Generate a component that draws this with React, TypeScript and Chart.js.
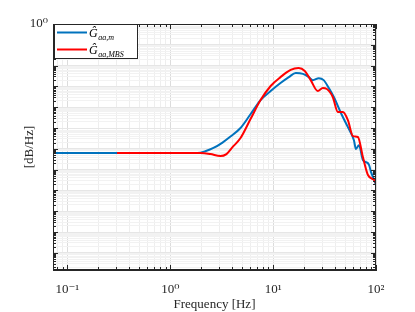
import { useEffect, useRef } from "react";
import { Chart, registerables } from "chart.js";

Chart.register(...registerables);

// Blue: measured
const freqM = [0.0722, 0.638, 1.83, 2.19, 2.63, 3.22, 3.85, 4.82, 6.03, 7.55, 9.46, 11.8, 14.2, 16.6, 19.5, 22.2, 24.3, 27.8, 31.0, 34.8, 38.9, 45.6, 53.3, 61.0, 63.8, 68.2, 74.6, 80.0, 85.5, 89.5, 93.5, 100];
const psdM = [6.3e-7, 6.3e-7, 6.3e-7, 7.6e-7, 1.1e-6, 2.0e-6, 3.9e-6, 1.0e-5, 4.6e-5, 2.2e-4, 6.0e-4, 1.45e-3, 2.8e-3, 4.4e-3, 4.0e-3, 2.8e-3, 2.0e-3, 2.5e-3, 2.0e-3, 8.3e-4, 3.1e-4, 5.3e-5, 1.1e-5, 2.6e-6, 9.8e-7, 1.5e-6, 2.9e-7, 2.3e-7, 1.7e-7, 7.6e-8, 4.4e-8, 1.8e-8];

// Red: MBS
const freqMBS = [0.304, 1.96, 2.46, 3.07, 3.52, 4.03, 4.82, 6.03, 7.55, 9.46, 11.8, 14.8, 17.7, 20.3, 23.2, 27.2, 30.4, 33.3, 38.0, 42.6, 47.7, 53.3, 59.7, 66.7, 74.6, 83.5, 95.6, 100];
const psdMBS = [6.3e-7, 6.3e-7, 5.6e-7, 4.5e-7, 5.6e-7, 1.2e-6, 3.3e-6, 2.7e-5, 2.2e-4, 1.05e-3, 2.8e-3, 6.2e-3, 7.6e-3, 5.5e-3, 2.0e-3, 6.0e-4, 8.3e-4, 7.5e-4, 3.1e-4, 5.9e-5, 5.9e-5, 2.4e-5, 4.1e-6, 3.7e-6, 4.0e-7, 5.5e-8, 3.2e-8, 2.3e-8];

const xTickValues = [0.1, 1, 10, 100];
const xTickLabels = ["10\u207B\u00B9", "10\u2070", "10\u00B9", "10\u00B2"];
const yTickValues = [1];
const yTickLabels = ["10\u2070"];

const xMin = 0.0725;
const xMax = 100;
const yMin = 1.5e-12;
const yMax = 1;

const legendBase = "\u011C";
const legendSubs = ["aa,m", "aa,MBS"];
const colorM = "#0072BD";
const colorMBS = "#FF0000";

const SERIF = "'Liberation Serif', 'DejaVu Serif', serif";

function logTicks(min: number, max: number) {
  const out: { value: number; major: boolean }[] = [];
  const e0 = Math.floor(Math.log10(min));
  const e1 = Math.ceil(Math.log10(max));
  for (let e = e0; e <= e1; e++) {
    for (let k = 1; k <= 9; k++) {
      const v = k * Math.pow(10, e);
      if (v >= min * 0.9999 && v <= max * 1.0001) out.push({ value: v, major: k === 1 });
    }
  }
  return out;
}

function isDecade(v: number) {
  const l = Math.log10(v);
  return Math.abs(l - Math.round(l)) < 1e-6;
}

function labelFor(v: number, vals: number[], labels: string[]) {
  for (let i = 0; i < vals.length; i++) {
    if (Math.abs(v - vals[i]) / vals[i] < 1e-6) return labels[i];
  }
  return "";
}

const framePlugin = {
  id: "frameAndLegend",
  afterDraw(chart: any) {
    const ctx = chart.ctx as CanvasRenderingContext2D;
    const a = chart.chartArea;
    const xs = chart.scales.x;
    const ys = chart.scales.y;
    ctx.save();
    ctx.strokeStyle = "#262626";
    ctx.lineWidth = 1;
    ctx.beginPath();
    for (const t of xs.ticks) {
      const px = Math.round(xs.getPixelForValue(t.value)) + 0.5;
      const len = isDecade(t.value) ? 5 : 3;
      ctx.moveTo(px, a.bottom);
      ctx.lineTo(px, a.bottom - len);
      ctx.moveTo(px, a.top);
      ctx.lineTo(px, a.top + len);
    }
    for (const t of ys.ticks) {
      const py = Math.round(ys.getPixelForValue(t.value)) + 0.5;
      const len = isDecade(t.value) ? 5 : 3;
      ctx.moveTo(a.left, py);
      ctx.lineTo(a.left + len, py);
      ctx.moveTo(a.right, py);
      ctx.lineTo(a.right - len, py);
    }
    ctx.stroke();
    ctx.strokeRect(Math.round(a.left) + 0.5, Math.round(a.top) + 0.5, Math.round(a.right - a.left) - 1, Math.round(a.bottom - a.top) - 1);

    // legend
    const lx = a.left + 1;
    const ly = a.top;
    const lw = 83;
    const lh = 34;
    ctx.fillStyle = "#ffffff";
    ctx.fillRect(lx, ly, lw, lh);
    ctx.strokeStyle = "#262626";
    ctx.strokeRect(lx + 0.5, ly + 0.5, lw, lh);
    const colors = [colorM, colorMBS];
    const rowsY = [ly + 8.5, ly + 25.5];
    for (let i = 0; i < 2; i++) {
      ctx.strokeStyle = colors[i];
      ctx.lineWidth = 2;
      ctx.beginPath();
      ctx.moveTo(lx + 3, rowsY[i]);
      ctx.lineTo(lx + 33, rowsY[i]);
      ctx.stroke();
      ctx.fillStyle = "#000";
      ctx.textBaseline = "alphabetic";
      ctx.textAlign = "left";
      ctx.font = `italic 12px ${SERIF}`;
      const tx = lx + 35;
      ctx.fillText(legendBase, tx, rowsY[i] + 4.5);
      const w = ctx.measureText(legendBase).width;
      ctx.font = `italic 8px ${SERIF}`;
      ctx.fillText(legendSubs[i], tx + w + 0.5, rowsY[i] + 7.5);
    }
    ctx.restore();
  },
};

export default function App() {
  const ref = useRef<HTMLCanvasElement | null>(null);
  useEffect(() => {
    document.body.style.margin = "0";
    const canvas = ref.current;
    if (!canvas) return;
    const chart = new Chart(canvas, {
      type: "line",
      data: {
        datasets: [
          {
            label: "G_aa,m",
            data: freqM.map((f, i) => ({ x: f, y: psdM[i] })),
            borderColor: colorM,
            borderWidth: 2,
            pointRadius: 0,
            cubicInterpolationMode: "monotone",
            fill: false,
            order: 1,
          },
          {
            label: "G_aa,MBS",
            data: freqMBS.map((f, i) => ({ x: f, y: psdMBS[i] })),
            borderColor: colorMBS,
            borderWidth: 2,
            pointRadius: 0,
            cubicInterpolationMode: "monotone",
            fill: false,
            order: 0,
          },
        ],
      },
      options: {
        responsive: false,
        animation: false,
        devicePixelRatio: 1,
        layout: { padding: { top: 24, right: 39, left: 0, bottom: 0 } },
        plugins: { legend: { display: false }, tooltip: { enabled: false } },
        scales: {
          x: {
            type: "logarithmic",
            min: xMin,
            max: xMax,
            afterFit: (s: any) => {
              s.height = 42;
            },
            afterBuildTicks: (s: any) => {
              s.ticks = logTicks(xMin, xMax);
            },
            grid: {
              drawTicks: false,
              color: (c: any) => (c.tick && isDecade(c.tick.value) ? "#dcdcdc" : "#eeeeee"),
              lineWidth: 1,
            },
            border: { display: true, color: "#262626" },
            ticks: {
              autoSkip: false,
              maxRotation: 0,
              padding: 12,
              color: "#262626",
              font: { family: SERIF, size: 13 },
              callback: (v: any) => labelFor(Number(v), xTickValues, xTickLabels),
            },
            title: {
              display: true,
              text: "Frequency [Hz]",
              color: "#262626",
              font: { family: SERIF, size: 13 },
              padding: { top: 0, bottom: 0 },
            },
          },
          y: {
            type: "logarithmic",
            min: yMin,
            max: yMax,
            afterFit: (s: any) => {
              s.width = 53;
            },
            afterBuildTicks: (s: any) => {
              s.ticks = logTicks(yMin, yMax);
            },
            grid: {
              drawTicks: false,
              color: (c: any) => (c.tick && isDecade(c.tick.value) ? "#e6e6e6" : "#f2f2f2"),
              lineWidth: 1,
            },
            border: { display: true, color: "#262626" },
            ticks: {
              autoSkip: false,
              padding: 5,
              color: "#262626",
              font: { family: SERIF, size: 13 },
              callback: (v: any) => labelFor(Number(v), yTickValues, yTickLabels),
            },
            title: {
              display: true,
              text: "[dB/Hz]",
              color: "#262626",
              font: { family: SERIF, size: 13 },
              padding: { top: 22, bottom: 0 },
            },
          },
        },
      },
      plugins: [framePlugin],
    } as any);
    return () => chart.destroy();
  }, []);
  return (
    <div style={{ width: 415, height: 312, background: "#fff" }}>
      <canvas ref={ref} width={415} height={312} style={{ display: "block" }} />
    </div>
  );
}
